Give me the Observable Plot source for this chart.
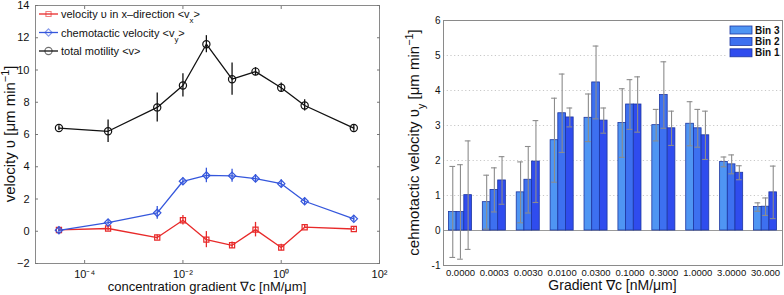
<!DOCTYPE html>
<html><head><meta charset="utf-8">
<script src="https://cdn.jsdelivr.net/npm/d3@7"></script>
<script src="https://cdn.jsdelivr.net/npm/@observablehq/plot@0.6"></script>
<style>
body{margin:0;background:#fff;}
#wrap{display:flex;width:784px;height:295px;overflow:hidden;}
svg{font-family:"Liberation Sans",Arial,Helvetica,sans-serif;}
</style></head><body><div id="wrap"></div>
<script>
// ---------- data ----------
const gradientLabels = ["0.0000","0.0003","0.0030","0.0100","0.0300","0.1000","0.3000","1.0000","3.0000","30.000"];
const gradientPos = [3e-5, 3e-4, 3e-3, 1e-2, 3e-2, 1e-1, 3e-1, 1, 3, 30];

const vx    = [0.08, 0.17, -0.39, 0.68, -0.52, -0.87, 0.10, -1.01, 0.25, 0.14];
const vxErr = [0.10, 0.15, 0.15, 0.30, 0.50, 0.20, 0.45, 0.20, 0.10, 0.10];
const vy    = [0.06, 0.54, 1.14, 3.10, 3.46, 3.44, 3.27, 2.95, 1.86, 0.77];
const vyErr = [0.20, 0.15, 0.40, 0.20, 0.45, 0.40, 0.25, 0.25, 0.20, 0.20];
const vTot  = [6.40, 6.20, 7.68, 9.04, 11.60, 9.43, 9.90, 8.90, 7.80, 6.40];
const vTotErr = [0.15, 0.70, 0.90, 0.72, 0.53, 1.00, 0.25, 0.30, 0.35, 0.20];

const bin3    = [0.53, 0.81, 1.09, 2.58, 3.22, 3.07, 3.01, 3.05, 1.96, 0.67];
const bin3Err = [1.30, 0.77, 0.87, 1.20, 0.68, 0.98, 0.45, 0.63, 0.14, 0.12];
const bin2    = [0.53, 1.16, 1.45, 3.35, 4.23, 3.60, 3.87, 2.92, 1.89, 0.68];
const bin2Err = [1.35, 0.63, 0.95, 1.12, 1.04, 0.71, 0.95, 0.54, 0.27, 0.25];
const bin1    = [1.01, 1.43, 1.97, 3.23, 3.14, 3.60, 2.92, 2.72, 1.65, 1.09];
const bin1Err = [1.55, 0.68, 1.17, 0.27, 0.36, 0.79, 0.49, 0.69, 0.20, 0.75];

const xTicksLeft = [1e-4, 1e-2, 1, 1e2];
const xTickLabelsLeft = ["10⁻⁴", "10⁻²", "10⁰", "10²"];
const yTicksLeft = [-2, 0, 2, 4, 6, 8, 10, 12, 14];
const yTicksRight = [-1, 0, 1, 2, 3, 4, 5, 6];
const gridRight = [1, 2, 3, 4, 5];

const binNames = ["Bin 3", "Bin 2", "Bin 1"];
const binColors = ["#4f95f3", "#3d70f0", "#2f4cee"];

// ---------- left panel ----------
const series = [
  {name: "vx", values: vx, err: vxErr, color: "#e82a2a", symbol: "square", r: 2.9,
   label: [["velocity υ in x–direction <v"], ["x", "sub"], [">"]]},
  {name: "vy", values: vy, err: vyErr, color: "#3557dc", symbol: "diamond2", r: 3.3,
   label: [["chemotactic velocity <v"], ["y", "sub"], [">"]]},
  {name: "v", values: vTot, err: vTotErr, color: "#111111", symbol: "circle", r: 3.6,
   label: [["total motility <v>"]]}
];

const L = {width: 392, height: 295, ml: 35, mr: 13, mt: 5, mb: 32};
const leftMarks = [Plot.frame({stroke: "#8a8a8a"})];
for (const s of series) {
  const data = gradientPos.map((g, i) => ({g, v: s.values[i], e: s.err[i]}));
  leftMarks.push(
    Plot.ruleX(data, {x: "g", y1: d => d.v - d.e, y2: d => d.v + d.e, stroke: s.color, strokeWidth: 1.3}),
    Plot.line(data, {x: "g", y: "v", stroke: s.color, strokeWidth: 1.3}),
    Plot.dot(data, {x: "g", y: "v", symbol: s.symbol, r: s.r, stroke: s.color, fill: "none", strokeWidth: 1.2})
  );
}
leftMarks.push(
  Plot.axisY({ticks: yTicksLeft, tickSize: 0, tickPadding: 6, label: null, fontSize: 11}),
  Plot.axisY({ticks: yTicksLeft, anchor: "left", tickSize: -3, tickFormat: () => "", label: null, stroke: "#777"}),
  Plot.axisY({ticks: yTicksLeft, anchor: "right", tickSize: -3, tickFormat: () => "", label: null, stroke: "#777"}),
  Plot.axisX({ticks: xTicksLeft, tickSize: 0, tickPadding: 7, label: null, fontSize: 11,
    tickFormat: d => xTickLabelsLeft[xTicksLeft.indexOf(d)]}),
  Plot.axisX({ticks: xTicksLeft, anchor: "bottom", tickSize: -3, tickFormat: () => "", label: null, stroke: "#777"}),
  Plot.axisX({ticks: xTicksLeft, anchor: "top", tickSize: -3, tickFormat: () => "", label: null, stroke: "#777"})
);

const left = Plot.plot({
  width: L.width, height: L.height,
  marginLeft: L.ml, marginRight: L.mr, marginTop: L.mt, marginBottom: L.mb,
  style: {fontFamily: '"Liberation Sans", Arial, Helvetica, sans-serif', color: "#111", background: "#fff"},
  x: {type: "log", domain: [1e-5, 1e2]},
  y: {domain: [-2, 14]},
  marks: leftMarks
});

function addText(sel, parts, attrs) {
  const t = sel.append("text");
  for (const [k, v] of Object.entries(attrs)) t.attr(k, v);
  for (const [str, kind] of parts) {
    const ts = t.append("tspan").text(str);
    if (kind === "sub") ts.attr("baseline-shift", "sub").attr("font-size", "72%");
    if (kind === "sup") ts.attr("baseline-shift", "super").attr("font-size", "72%");
  }
  return t;
}

{
  const svg = d3.select(left);
  addText(svg, [["concentration gradient ∇c [nM/μm]"]],
    {x: (L.ml + L.width - L.mr) / 2, y: 291, "text-anchor": "middle", "font-size": 13, fill: "#111"});
  addText(svg, [["velocity υ [μm min"], ["−1", "sup"], ["]"]],
    {transform: `translate(15,${(L.mt + L.height - L.mb) / 2}) rotate(-90)`, "text-anchor": "middle", "font-size": 15, fill: "#111"});
  // legend
  const g = svg.append("g");
  series.forEach((s, i) => {
    const y = 14 + i * 18.5;
    g.append("line").attr("x1", 39).attr("x2", 58).attr("y1", y).attr("y2", y)
      .attr("stroke", s.color).attr("stroke-width", 1.3);
    const sym = s.symbol === "square" ? d3.symbolSquare : s.symbol === "diamond2" ? d3.symbolDiamond2 : d3.symbolCircle;
    g.append("path").attr("d", d3.symbol(sym, Math.PI * s.r * s.r)())
      .attr("transform", `translate(48.5,${y})`).attr("fill", "none").attr("stroke", s.color).attr("stroke-width", 1.1).attr("opacity", 0.6);
    addText(g, s.label, {x: 61, y: y + 4, "font-size": 11, "text-anchor": "start", fill: "#111"});
  });
}

// ---------- right panel ----------
const R = {width: 392, height: 295, ml: 51, mr: 2, mt: 20, mb: 30};
const pInner = 0.32, pOuter = 0.16;
const step = (R.width - R.ml - R.mr) / (gradientLabels.length - pInner + 2 * pOuter);
const B = step * (1 - pInner);
const third = B / 3;

const binValues = [bin3, bin2, bin1];
const binErrs = [bin3Err, bin2Err, bin1Err];

const rightMarks = [
  Plot.ruleY(gridRight, {stroke: "#c8c8c8", strokeDasharray: "1.2,2.5"}),
  Plot.ruleY([0], {stroke: "#9a9a9a", strokeWidth: 1.2})
];
binValues.forEach((vals, i) => {
  const data = gradientLabels.map((c, k) => ({c, v: vals[k], e: binErrs[i][k]}));
  rightMarks.push(
    Plot.barY(data, {x: "c", y: "v", fill: binColors[i], stroke: "#1d36a0", strokeWidth: 0.8,
      insetLeft: i * third, insetRight: (2 - i) * third}),
    Plot.ruleX(data, {x: "c", y1: d => d.v - d.e, y2: d => d.v + d.e, dx: (i - 1) * third, stroke: "#8c8c8c", strokeWidth: 1.1}),
    Plot.tickY(data, {x: "c", y: d => d.v + d.e, insetLeft: i * third + 1, insetRight: (2 - i) * third + 1, stroke: "#8c8c8c", strokeWidth: 1.1}),
    Plot.tickY(data, {x: "c", y: d => d.v - d.e, insetLeft: i * third + 1, insetRight: (2 - i) * third + 1, stroke: "#8c8c8c", strokeWidth: 1.1})
  );
});
rightMarks.push(
  Plot.frame({stroke: "#8a8a8a"}),
  Plot.axisY({ticks: yTicksRight, tickSize: 0, tickPadding: 3, label: null, fontSize: 10, tickFormat: d => String(d)}),
  Plot.axisX({tickSize: 0, tickPadding: 4, label: null, fontSize: 9.5})
);

const right = Plot.plot({
  width: R.width, height: R.height,
  marginLeft: R.ml, marginRight: R.mr, marginTop: R.mt, marginBottom: R.mb,
  style: {fontFamily: '"Liberation Sans", Arial, Helvetica, sans-serif', color: "#111", background: "#fff"},
  x: {type: "band", domain: gradientLabels, paddingInner: pInner, paddingOuter: pOuter, round: false},
  y: {domain: [-1, 6]},
  marks: rightMarks
});

{
  const svg = d3.select(right);
  addText(svg, [["Gradient ∇c [nM/μm]"]],
    {x: (R.ml + R.width - R.mr) / 2, y: 290, "text-anchor": "middle", "font-size": 14, fill: "#111"});
  addText(svg, [["cehmotactic velocity υ"], ["y", "sub"], [" [μm min"], ["−1", "sup"], ["]"]],
    {transform: `translate(27,${(R.mt + R.height - R.mb) / 2}) rotate(-90)`, "text-anchor": "middle", "font-size": 15, fill: "#111"});
  const g = svg.append("g");
  g.append("rect").attr("x", 334).attr("y", 22).attr("width", 54).attr("height", 38).attr("fill", "#fff");
  binNames.forEach((n, i) => {
    const y = 30 + i * 11.4;
    g.append("rect").attr("x", 338).attr("y", y - 4).attr("width", 22).attr("height", 8)
      .attr("fill", binColors[i]).attr("stroke", "#1d36a0").attr("stroke-width", 0.8);
    addText(g, [[n]], {x: 363, y: y + 3.5, "font-size": 10, "font-weight": "bold", "text-anchor": "start", fill: "#111"});
  });
}

document.getElementById("wrap").append(left, right);
</script></body></html>
